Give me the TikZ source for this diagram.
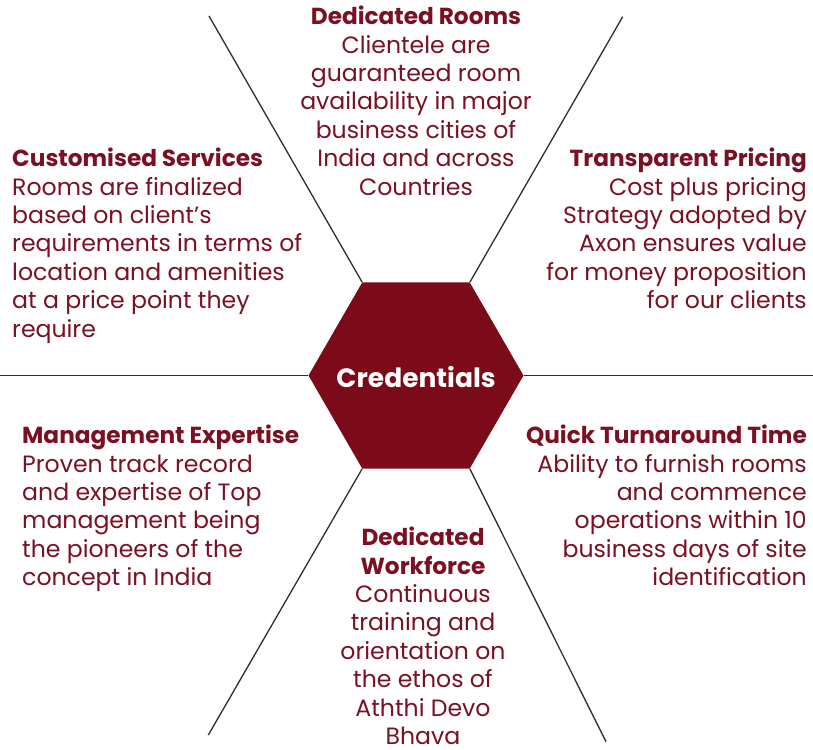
\documentclass[tikz,border=0pt]{standalone}
\usepackage{fontspec}
\setmainfont{Poppins}
\usetikzlibrary{shapes.geometric}
\definecolor{maroon}{HTML}{7B0B19}
\definecolor{textred}{HTML}{7A1022}
\definecolor{linegray}{HTML}{2E2E2E}
\newcommand{\hd}[1]{{\bfseries\fontsize{23.2}{28.5}\selectfont #1}}
\begin{document}
\begin{tikzpicture}[x=1pt,y=-1pt,
    hexbox/.style={regular polygon, regular polygon sides=6, minimum size=215pt,
        inner sep=0pt, fill=maroon},
    hexlabel/.style={text=white, inner sep=0pt,
        font=\bfseries\fontsize{26.5}{30}\selectfont},
    info/.style={text=textred, inner sep=0pt,
        font=\fontsize{23.6}{28.4}\selectfont},
    spoke/.style={linegray, line width=1.3pt}]
    \useasboundingbox (0,0) rectangle (813,749);
    \def\cx{416}
    \def\cy{375.5}

    % Draw the central hexagon
    \node[hexbox] (hex) at (\cx,\cy) {};
    \node[hexlabel] (cred) at ([yshift=-1.5]hex.center) {Credentials};

    % Free ends of the six spokes
    \coordinate (tl) at (209,16);
    \coordinate (tr) at (622.7,16.7);
    \coordinate (bl) at (208.3,735);
    \coordinate (br) at (606,741.7);
    \coordinate (le) at (0,\cy);
    \coordinate (ri) at (813,\cy);

    % Draw the spokes from the hexagon corners
    \draw[spoke] (hex.corner 2) -- (tl);
    \draw[spoke] (hex.corner 1) -- (tr);
    \draw[spoke] (hex.corner 4) -- (bl);
    \draw[spoke] (hex.corner 5) -- (br);
    \draw[spoke] (hex.corner 3) -- (le);
    \draw[spoke] (hex.corner 6) -- (ri);

    % Text in the six sectors
    \node[info, align=center, anchor=north] (rooms) at (416,6)
        {\hd{Dedicated Rooms}\\Clientele are\\guaranteed room\\availability in major\\business cities of\\India and across\\Countries};
    \node[info, align=left, anchor=north west] (custom) at (12,148)
        {\hd{Customised Services}\\Rooms are finalized\\based on client's\\requirements in terms of\\location and amenities\\at a price point they\\require};
    \node[info, align=right, anchor=north east] (pricing) at (807,148)
        {\hd{Transparent Pricing}\\Cost plus pricing\\Strategy adopted by\\Axon ensures value\\for money proposition\\for our clients};
    \node[info, align=left, anchor=north west] (mgmt) at (22,425)
        {\hd{Management Expertise}\\Proven track record\\and expertise of Top\\management being\\the pioneers of the\\concept in India};
    \node[info, align=right, anchor=north east] (quick) at (807,425)
        {\hd{Quick Turnaround Time}\\Ability to furnish rooms\\and commence\\operations within 10\\business days of site\\identification};
    \node[info, align=center, anchor=north] (workforce) at (423,527)
        {\hd{Dedicated}\\\hd{Workforce}\\Continuous\\training and\\orientation on\\the ethos of\\Aththi Devo\\Bhava};
\end{tikzpicture}
\end{document}
